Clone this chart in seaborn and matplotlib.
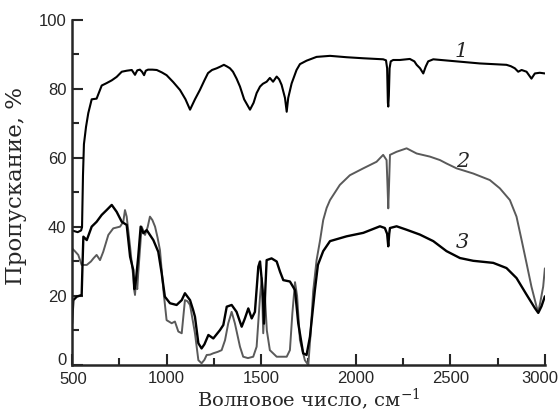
import numpy as np
import pandas as pd
import matplotlib
matplotlib.use("Agg")
import matplotlib.pyplot as plt
from matplotlib.ticker import MultipleLocator, FuncFormatter
import seaborn as sns

# ── data ────────────────────────────────────────────────────────────────────
wn1 = [500, 530, 548, 553, 558, 563, 574, 586, 604, 630, 657, 683, 710, 736, 763, 790,
       816, 833, 845, 859, 870, 881, 890, 902, 925, 948, 975, 1000, 1035, 1071, 1100,
       1124, 1150, 1176, 1200, 1219, 1240, 1265, 1285, 1303, 1320, 1335, 1351, 1370,
       1388, 1410, 1441, 1460, 1476, 1494, 1509, 1529, 1546, 1563, 1582, 1595, 1608,
       1626, 1635, 1643, 1661, 1687, 1705, 1740, 1793, 1864, 1952, 2040, 2145, 2160,
       2166, 2170, 2172, 2175, 2179, 2185, 2198, 2233, 2286, 2310, 2322, 2340, 2357,
       2370, 2383, 2410, 2533, 2656, 2797, 2820, 2841, 2859, 2877, 2903, 2929, 2947,
       2973, 3000]
t1 = [39, 38.5, 39, 40, 55, 64, 69, 73, 77, 77.2, 81, 81.7, 82.5, 83.5, 85, 85.3,
      85.5, 84.1, 85.4, 85.6, 85, 84, 85.3, 85.6, 85.6, 85.5, 84.8, 84, 82, 79.7, 77,
      74, 77, 79.7, 82.5, 84.6, 85.5, 86, 86.5, 87, 86.5, 86, 85, 83,
      80.7, 77, 74, 76, 78.8, 80.7, 81.5, 82.1, 83.2, 82.1, 83.6, 82.8, 81.2,
      77.4, 73.4, 77.4, 81.6, 85.5, 87.2, 88.2, 89.3, 89.6, 89.2, 88.9, 88.6, 88.3,
      86, 76, 74.9, 78, 86, 88, 88.4, 88.4, 88.7, 88, 87, 86, 84.5,
      86.5, 88, 88.6, 88, 87.4, 87, 86.6, 86, 85, 85.5, 85, 83, 84.5,
      84.7, 84.5]

wn2 = [500, 515, 533, 551, 578, 600, 613, 630, 648, 665, 692, 718, 754, 771, 780, 789,
       807, 815, 824, 828, 833, 838, 845, 850, 860, 868, 886, 900, 912, 925, 939, 952,
       965, 983, 1000, 1027, 1044, 1062, 1080, 1097, 1110, 1124, 1150, 1168, 1185, 1200,
       1212, 1230, 1247, 1270, 1291, 1309, 1326, 1344, 1361, 1388, 1405, 1430, 1458,
       1476, 1494, 1503, 1511, 1520, 1530, 1546, 1582, 1635, 1652, 1665, 1679, 1690,
       1705, 1731, 1749, 1760, 1775, 1793, 1811, 1828, 1846, 1864, 1916, 1969, 2040,
       2110, 2145, 2163, 2168, 2172, 2176, 2181, 2216, 2269, 2322, 2392, 2445, 2480,
       2533, 2621, 2709, 2762, 2815, 2850, 2877, 2903, 2929, 2956, 2965, 2975, 2991, 3000]
t2 = [33.8, 33, 31.9, 29, 29, 30, 30.9, 31.9, 30.4, 32.8, 37.7, 39.6, 40.1, 41.5, 44.9, 43,
      34.3, 30, 25.6, 22, 20.3, 24, 22, 26.6, 34, 40.1, 37.7, 40, 43, 42, 40.1, 37,
      33.3, 21.7, 13, 12.1, 12.6, 9.7, 9.2, 18.8, 18.5, 17.4, 9.2, 1.4, 0.5, 1.5,
      2.9, 3, 3.4, 3.8, 4.3, 7.2, 12.1, 15.4, 12.1, 5.3, 2.4, 2, 2.4,
      5.3, 19.8, 25.2, 9.2, 19.8, 10, 4.3, 2.4, 2.4, 4.3, 15, 24, 20,
      7.2, 1.4, 0, 8, 21.4, 30.4, 36, 42, 45.5, 47.8, 52.2, 55, 57,
      58.9, 60.9, 59.4, 52, 45.4, 52, 60.9, 61.8, 62.8, 61.3, 60.4, 59.4, 58.4,
      57, 55.5, 53.6, 51.2, 47.8, 43, 36.2, 29.5, 22.7, 16.9, 15.4, 18, 22.7, 28]

wn3 = [500, 507, 525, 551, 556, 560, 578, 604, 630, 657, 683, 710, 736, 763, 789, 807,
       824, 830, 838, 850, 863, 877, 895, 930, 956, 974, 991, 1018, 1053, 1080, 1097,
       1124, 1140, 1150, 1168, 1185, 1200, 1221, 1247, 1282, 1300, 1318, 1344, 1370,
       1397, 1414, 1432, 1450, 1467, 1485, 1494, 1508, 1515, 1522, 1529, 1555, 1582,
       1600, 1617, 1652, 1679, 1696, 1722, 1740, 1758, 1784, 1800, 1828, 1864, 1952,
       2040, 2128, 2154, 2166, 2172, 2177, 2181, 2216, 2269, 2339, 2410, 2480, 2551,
       2621, 2727, 2797, 2850, 2903, 2947, 2965, 2982, 3000]
t3 = [12, 18.8, 19.8, 20.3, 30, 37.2, 36.2, 40.1, 41.5, 43.5, 44.9, 46.4, 44.4, 41.5, 40.6, 31.4,
      27.5, 22, 24.6, 31.4, 40.1, 38.2, 39.1, 36.2, 32.8, 26.6, 19.8, 17.9, 17.4, 18.8, 20.8,
      18.8, 16, 14, 6.3, 4.8, 6, 8.7, 7.7, 10.1, 11.6, 16.9, 17.4, 15.4,
      11.1, 13.5, 16.4, 13.5, 15.4, 28.5, 30, 21.7, 12, 22, 30.4, 30.9, 30,
      27, 24.6, 24.2, 21.7, 12.1, 3.4, 2.9, 8.2, 21.7, 29, 33, 35.9, 37.3,
      38.3, 40.2, 39.7, 38, 34.4, 38, 39.7, 40.2, 39.2, 37.8, 35.9, 33, 31,
      30.2, 29.6, 28.1, 25.2, 20.4, 16.5, 15.1, 17, 19.9]

curve_labels = ["1", "2", "3"]
label_x = [2560, 2565, 2565]
label_y = [90.8, 59, 35.4]

sns.set_style("ticks")
plt.rcParams["font.family"] = ["Liberation Sans Narrow", "Liberation Sans", "DejaVu Sans"]
plt.rcParams["mathtext.fontset"] = "dejavuserif"

fig = plt.figure(figsize=(5.6, 4.16), dpi=100)
ax = fig.add_axes([0.1286, 0.1226, 0.8444, 0.8294])

df1 = pd.DataFrame({"wn": wn1, "t": t1})
df2 = pd.DataFrame({"wn": wn2, "t": t2})
df3 = pd.DataFrame({"wn": wn3, "t": t3})
sns.lineplot(data=df2, x="wn", y="t", ax=ax, color="#5a5a5a", linewidth=1.4, sort=False)
sns.lineplot(data=df3, x="wn", y="t", ax=ax, color="black", linewidth=1.7, sort=False)
sns.lineplot(data=df1, x="wn", y="t", ax=ax, color="black", linewidth=1.5, sort=False)

for lab, lx, ly in zip(curve_labels, label_x, label_y):
    ax.text(lx, ly, lab, fontsize=15, style="italic", family="DejaVu Serif",
            ha="center", va="center")

ax.set_xlim(500, 3000)
ax.set_ylim(0, 100)
ax.xaxis.set_major_locator(MultipleLocator(500))
ax.xaxis.set_minor_locator(MultipleLocator(250))
ax.yaxis.set_major_locator(MultipleLocator(20))
ax.yaxis.set_minor_locator(MultipleLocator(10))
# the edge labels (500, 3000 and 0) are drawn by hand below, slightly nudged
ax.xaxis.set_major_formatter(FuncFormatter(lambda v, p: "" if v in (500, 3000) else f"{v:.0f}"))
ax.yaxis.set_major_formatter(FuncFormatter(lambda v, p: "" if v == 0 else f"{v:.0f}"))
ax.tick_params(which="major", direction="in", length=8, width=1.5, labelsize=12, pad=4)
ax.tick_params(which="minor", direction="in", length=5, width=1.5)
sns.despine(ax=ax)
for s in ["left", "bottom"]:
    ax.spines[s].set_linewidth(1.8)

ax.annotate("3000", xy=(3000, 0), xytext=(-4, -4), textcoords="offset points",
            ha="center", va="top", fontsize=12, annotation_clip=False)
ax.annotate("500", xy=(500, 0), xytext=(1, -5), textcoords="offset points",
            ha="center", va="top", fontsize=12, annotation_clip=False)
ax.annotate("0", xy=(500, 0), xytext=(-4, 3), textcoords="offset points",
            ha="right", va="center", fontsize=12, annotation_clip=False)

ax.set_xlabel("Волновое число, см$^{-1}$", family="DejaVu Serif", fontsize=14, labelpad=1)
ax.set_ylabel("Пропускание, %", family="DejaVu Serif", fontsize=16.5, labelpad=3)
ax.yaxis.set_label_coords(-0.095, 0.52)

fig.savefig("out.png", dpi=100)
